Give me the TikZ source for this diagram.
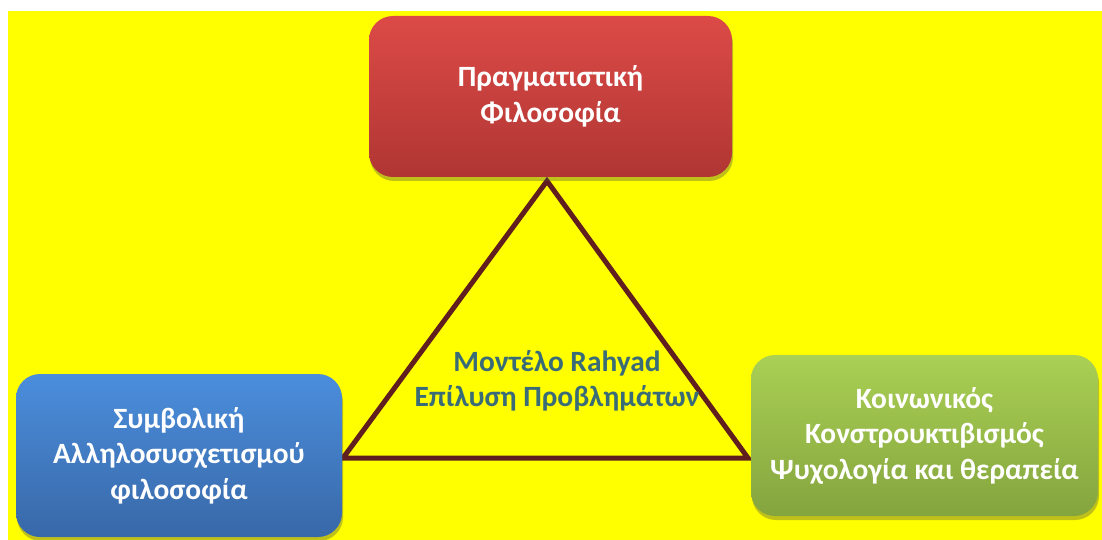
\documentclass[tikz,border=0pt]{standalone}
\usepackage{fontspec}
\setmainfont{Carlito}
\usetikzlibrary{shadows}
\definecolor{bg}{RGB}{255,255,0}
\definecolor{redtop}{RGB}{220,74,71}
\definecolor{redbot}{RGB}{176,54,51}
\definecolor{bluetop}{RGB}{75,142,220}
\definecolor{bluebot}{RGB}{56,104,168}
\definecolor{greentop}{RGB}{170,208,84}
\definecolor{greenbot}{RGB}{132,164,62}
\definecolor{tri}{RGB}{96,30,30}
\definecolor{centertext}{RGB}{58,108,120}
\tikzset{
  box/.style={rectangle, rounded corners=24pt, text=white, align=center,
    font=\bfseries\fontsize{29.4}{35.5}\selectfont,
    drop shadow={shadow xshift=1pt, shadow yshift=-4pt, opacity=0.35, fill=black!70}},
  redbox/.style={box, top color=redtop, bottom color=redbot, minimum width=363pt, minimum height=161pt},
  bluebox/.style={box, top color=bluetop, bottom color=bluebot, minimum width=326pt, minimum height=163pt},
  greenbox/.style={box, top color=greentop, bottom color=greenbot, minimum width=347pt, minimum height=161pt},
  triline/.style={draw=tri, line width=5pt, line join=miter},
  centerlabel/.style={text=centertext, align=center, font=\bfseries\fontsize{29.4}{35.5}\selectfont}
}
\begin{document}
\begin{tikzpicture}[x=1pt,y=-1pt]
\useasboundingbox (0,0) rectangle (1102,540);
\fill[bg] (8,11) rectangle (1102,540);
\coordinate (apex) at (547,181);
\coordinate (bl) at (343,458);
\coordinate (br) at (748,458);
\draw[triline] (apex) -- (bl) -- (br) -- cycle;
\node[redbox] (red) at (550.5,96.5) {Πραγματιστική\\Φιλοσοφία};
\node[bluebox] (blue) at (179,455.5) {Συμβολική\\Αλληλοσυσχετισμού\\φιλοσοφία};
\node[greenbox] (green) at (924.5,435.5) {Κοινωνικός\\Κονστρουκτιβισμός\\Ψυχολογία και θεραπεία};
\node[centerlabel] (model) at (557,381) {Μοντέλο Rahyad\\Επίλυση Προβλημάτων};
\end{tikzpicture}
\end{document}
